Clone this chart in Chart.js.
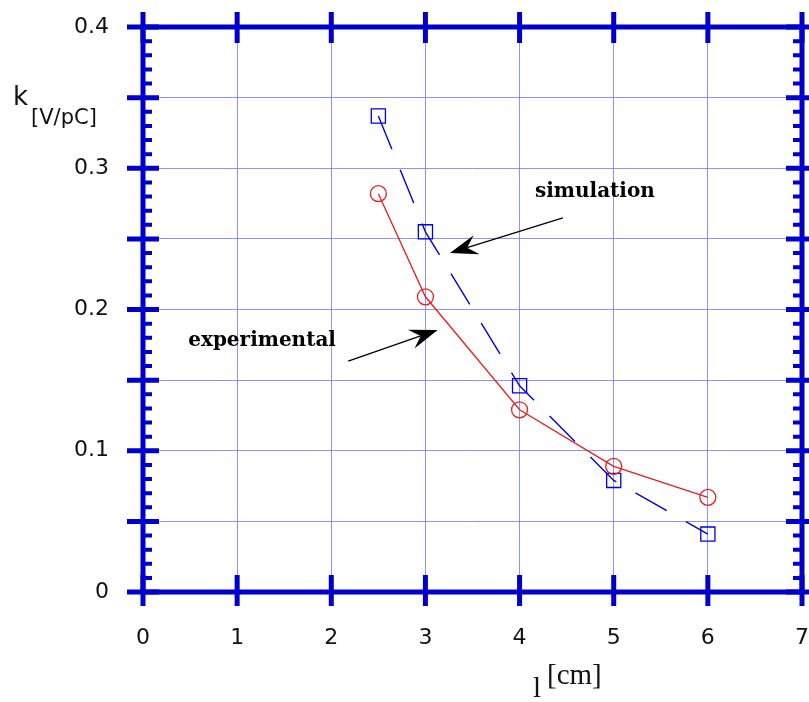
<!DOCTYPE html>
<html>
<head>
<meta charset="utf-8">
<script src="https://cdn.jsdelivr.net/npm/chart.js@4"></script>
<style>
  html, body { margin: 0; padding: 0; background: #fff; }
  canvas { display: block; }
</style>
</head>
<body>
<canvas id="myChart" width="809" height="702"></canvas>
<script>
// data
const lengths = [2.5, 3, 4, 5, 6];
const simulation = [0.337, 0.255, 0.146, 0.079, 0.041];
const experimental = [0.282, 0.209, 0.129, 0.089, 0.067];
const xTicks = [0, 1, 2, 3, 4, 5, 6, 7];
const yLabelled = [0, 0.1, 0.2, 0.3, 0.4];

const axisBlue = '#0000cc';
const gridBlue = 'rgba(110,110,240,0.75)';

// frame, ticks and text drawn on top
const framePlugin = {
  id: 'frame',
  afterDraw(chart) {
    const ctx = chart.ctx;
    const a = chart.chartArea;
    const xs = chart.scales.x, ys = chart.scales.y;
    ctx.save();
    ctx.strokeStyle = axisBlue;
    ctx.lineCap = 'butt';

    // minor y ticks (every 0.01)
    ctx.lineWidth = 4;
    for (let i = 1; i < 40; i++) {
      if (i % 5 === 0) continue;
      const py = ys.getPixelForValue(i / 100);
      ctx.beginPath();
      ctx.moveTo(a.left, py); ctx.lineTo(a.left + 9, py);
      ctx.moveTo(a.right, py); ctx.lineTo(a.right - 9, py);
      ctx.stroke();
    }

    ctx.lineWidth = 5;
    ctx.strokeRect(a.left, a.top, a.right - a.left, a.bottom - a.top);

    // major y ticks (every 0.05)
    for (let i = 0; i <= 8; i++) {
      const py = ys.getPixelForValue(i * 0.05);
      ctx.beginPath();
      ctx.moveTo(a.left - 16, py); ctx.lineTo(a.left + 16, py);
      ctx.moveTo(a.right - 16, py); ctx.lineTo(a.right + 8, py);
      ctx.stroke();
    }
    // major x ticks + labels
    ctx.fillStyle = '#111';
    ctx.font = '22px "DejaVu Sans"';
    ctx.textAlign = 'center';
    ctx.textBaseline = 'middle';
    xTicks.forEach(v => {
      const px = xs.getPixelForValue(v);
      ctx.beginPath();
      ctx.moveTo(px, a.top - 15); ctx.lineTo(px, a.top + 16);
      ctx.moveTo(px, a.bottom - 17); ctx.lineTo(px, a.bottom + 14);
      ctx.stroke();
      ctx.fillText(String(v), px, a.bottom + 46);
    });

    // axis titles
    ctx.textAlign = 'left';
    ctx.textBaseline = 'alphabetic';
    ctx.font = '26px "DejaVu Sans"';
    ctx.fillText('k', 13, 105);
    ctx.font = '21px "DejaVu Sans"';
    ctx.fillText('[V/pC]', 31, 124);

    ctx.font = '29px "Liberation Serif"';
    ctx.fillText('l', 533, 697);
    ctx.fillText('[cm]', 547, 684);

    // annotations
    ctx.fillStyle = '#000';
    ctx.strokeStyle = '#000';
    ctx.textAlign = 'center';
    ctx.textBaseline = 'middle';
    ctx.font = 'bold 20px "DejaVu Serif"';
    ctx.fillText('simulation', xs.getPixelForValue(4.8), ys.getPixelForValue(0.283));
    ctx.fillText('experimental', xs.getPixelForValue(1.265), ys.getPixelForValue(0.178));

    drawArrow(ctx, xs.getPixelForValue(4.46), ys.getPixelForValue(0.2648),
                   xs.getPixelForValue(3.26), ys.getPixelForValue(0.240));
    drawArrow(ctx, xs.getPixelForValue(2.18), ys.getPixelForValue(0.1635),
                   xs.getPixelForValue(3.13), ys.getPixelForValue(0.1855));
    ctx.restore();
  }
};

function drawArrow(ctx, x1, y1, x2, y2) {
  const ang = Math.atan2(y2 - y1, x2 - x1);
  const len = 28, half = 10, notch = 18;
  ctx.lineWidth = 1.3;
  ctx.beginPath();
  ctx.moveTo(x1, y1);
  ctx.lineTo(x2 - Math.cos(ang) * notch, y2 - Math.sin(ang) * notch);
  ctx.stroke();
  const c = Math.cos(ang), s = Math.sin(ang);
  const bx = x2 - c * len, by = y2 - s * len;
  ctx.beginPath();
  ctx.moveTo(x2, y2);
  ctx.lineTo(bx - s * half, by + c * half);
  ctx.lineTo(x2 - c * notch, y2 - s * notch);
  ctx.lineTo(bx + s * half, by - c * half);
  ctx.closePath();
  ctx.fill();
}

const ctx = document.getElementById('myChart').getContext('2d');
new Chart(ctx, {
  type: 'line',
  data: {
    datasets: [
      {
        label: 'experimental',
        data: lengths.map((l, i) => ({x: l, y: experimental[i]})),
        borderColor: 'rgb(232,30,30)',
        borderWidth: 1.3,
        backgroundColor: 'rgba(0,0,0,0)',
        pointStyle: 'circle',
        pointRadius: 8,
        pointBorderWidth: 1.3,
        pointBorderColor: 'rgb(232,30,30)',
        tension: 0
      },
      {
        label: 'simulation',
        data: lengths.map((l, i) => ({x: l, y: simulation[i]})),
        borderColor: 'rgb(0,0,225)',
        borderWidth: 1.4,
        borderDash: [36, 22],
        backgroundColor: 'rgba(0,0,0,0)',
        pointStyle: 'rect',
        pointRadius: 10,
        pointBorderWidth: 1.3,
        pointBorderColor: 'rgb(0,0,225)',
        tension: 0
      }
    ]
  },
  options: {
    responsive: false,
    animation: false,
    devicePixelRatio: 1,
    layout: { autoPadding: false, padding: { top: 27, right: 7, left: 0, bottom: 0 } },
    plugins: {
      legend: { display: false },
      tooltip: { enabled: false },
      title: { display: false }
    },
    scales: {
      x: {
        type: 'linear',
        min: 0, max: 7,
        afterFit: (scale) => {
          scale.height = 110;
          scale.paddingLeft = 0; scale.paddingRight = 0;
        },
        afterBuildTicks: (scale) => { scale.ticks = xTicks.map(v => ({value: v})); },
        grid: { color: gridBlue, lineWidth: 1, drawTicks: false },
        border: { display: false },
        ticks: { display: false }
      },
      y: {
        type: 'linear',
        min: 0, max: 0.4,
        afterFit: (scale) => {
          scale.width = 143;
          scale.paddingTop = 0; scale.paddingBottom = 0;
        },
        afterBuildTicks: (scale) => {
          const t = [];
          for (let i = 0; i <= 8; i++) t.push({value: i * 0.05});
          scale.ticks = t;
        },
        grid: { color: gridBlue, lineWidth: 1, drawTicks: false },
        border: { display: false },
        ticks: {
          padding: 34,
          color: '#111',
          font: { family: 'DejaVu Sans', size: 22 },
          callback: (v) => {
            const r = Math.round(v * 100);
            return yLabelled.some(y => Math.round(y * 100) === r) ? String(r / 100) : '';
          }
        }
      }
    }
  },
  plugins: [framePlugin]
});
</script>
</body>
</html>
